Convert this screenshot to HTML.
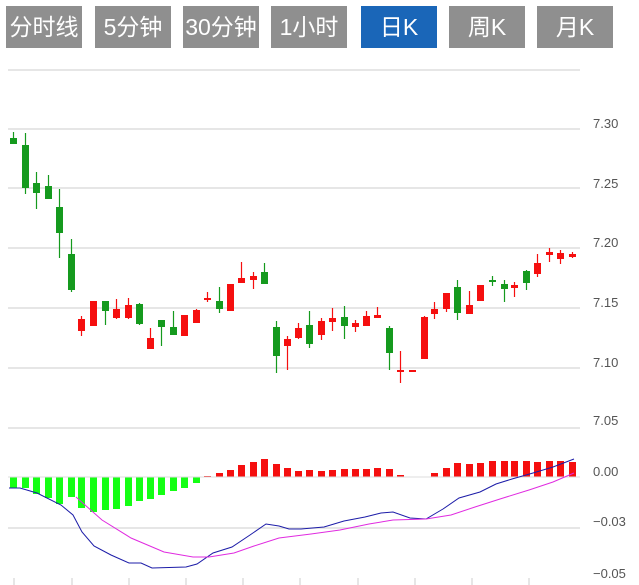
<!DOCTYPE html>
<html><head><meta charset="utf-8"><style>
body{margin:0;background:#fff;width:639px;height:585px;overflow:hidden;font-family:"Liberation Sans","Noto Sans CJK SC",sans-serif}
.b{position:absolute;top:6px;height:42px;width:76px;background:#8f8f8f;color:#fff;font-size:23px;line-height:42px;text-align:center}
.b.a{background:#1a66b8}
svg{position:absolute;left:0;top:0}
</style></head><body>
<div class="b" style="left:6px">分时线</div>
<div class="b" style="left:95px">5分钟</div>
<div class="b" style="left:183px">30分钟</div>
<div class="b" style="left:271px">1小时</div>
<div class="b a" style="left:361px">日K</div>
<div class="b" style="left:449px">周K</div>
<div class="b" style="left:537px">月K</div>
<svg id="s" width="639" height="585" font-family="Liberation Sans, sans-serif" font-size="13" fill="#555"></svg>
<script>
var s=document.getElementById('s'),h='';
function L(x1,y1,x2,y2,c,w){h+='<line x1="'+x1+'" y1="'+y1+'" x2="'+x2+'" y2="'+y2+'" stroke="'+c+'" stroke-width="'+(w||1)+'"/>';}
function T(x,y,t){h+='<text x="'+x+'" y="'+y+'">'+t+'</text>';}
L(8,70,580,70,'#e6e6e6',2);
[129,188,248,308,368,428].forEach(function(y){L(8,y,580,y,'#ddd',1.5)});
L(8,528,580,528,'#ddd',1.5);
[['7.30',128],['7.25',188],['7.20',247],['7.15',307],['7.10',367],['7.05',425],['0.00',476],['\u22120.03',526],['\u22120.05',578]].forEach(function(a){T(593,a[1],a[0])});
[14,72,129,186,243,300,358,415,472,529].forEach(function(x){L(x,578,x,585,'#ccc',1)});
var C=[[13,'g',132,138,144,144],[25,'g',133,145,188,194],[36,'g',172,183,193,209],[48,'g',175,186,199,199],[59,'g',189,207,233,258],[71,'g',239,254,290,292],
[81,'r',316,319,331,336],[93,'r',301,301,326,326],[105,'g',301,301,311,325],[116,'r',299,309,318,319],[128,'r',298,305,318,319],[139,'g',303,304,324,325],
[150,'r',328,338,349,349],[161,'g',320,320,327,346],[173,'g',311,327,335,335],[184,'r',315,315,336,336],[196,'r',309,310,323,323],[207,'r',292,298,300,302],
[219,'g',287,301,309,313],[230,'r',284,284,311,311],[241,'r',262,278,283,283],[253,'r',272,276,280,289],[264,'g',263,272,284,284],
[276,'g',321,327,356,373],[287,'r',336,339,346,370],[298,'r',323,328,338,339],[309,'g',311,325,344,348],[321,'r',318,321,335,340],[332,'r',308,318,322,331],
[344,'g',306,317,326,339],[355,'r',320,323,327,332],[366,'r',311,316,326,326],[377,'r',307,315,318,318],[389,'g',326,328,353,370],[400,'r',351,370,372,383],
[412,'r',370,370,372,372],[424,'r',316,317,359,359],[434,'r',302,309,314,319],[446,'r',293,293,309,312],[457,'g',280,287,313,320],[469,'r',291,305,314,314],
[480,'r',285,285,301,301],[492,'g',276,280,282,286],[504,'g',280,284,289,302],[514,'r',282,285,288,297],[526,'g',270,271,283,290],[537,'r',254,263,274,277],
[549,'r',248,252,255,262],[560,'r',250,253,259,264],[572,'r',252,254,257,258]];
C.forEach(function(c){var col=c[1]=='g'?'#159a1e':'#f50f0f';L(c[0]+0.5,c[2],c[0]+0.5,c[5],col,1.2);
h+='<rect x="'+(c[0]-3)+'" y="'+c[3]+'" width="7" height="'+Math.max(2,c[4]-c[3])+'" fill="'+col+'"/>';});
var Z=477,G=[11,11,17,21,27,20,31,35,33,32,29,24,22,18,14,11,6],
R=[1,4,7,12,15,18,13,9,6,7,6,7,8,8,8,9,8,2,0.5,0,4,9,14,13,14,16,16,16,16,15,16,16,15];
C.forEach(function(c,i){if(i<17)h+='<rect x="'+(c[0]-3)+'" y="'+Z+'" width="7" height="'+G[i]+'" fill="#14ff14"/>';
else{var v=R[i-17];if(v>0)h+='<rect x="'+(c[0]-3)+'" y="'+(Z-v)+'" width="7" height="'+v+'" fill="#f50f0f"/>';}});
L(8,Z,580,Z,'#ddd',1);
h+='<polyline fill="none" stroke="#1c1ca8" stroke-width="1" points="9,488 20,488 37,493 61,505 73,515 82,532 94,546 111,555 129,563 141,563 152,568 186,567 197,564 213,553 232,547 250,535 266,524 279,526 289,529 301,529 324,527 344,521 365,517 381,513 393,512 410,518 426,519 443,509 459,498 480,492 496,484 512,479 533,473 553,467 574,459"/>';
h+='<polyline fill="none" stroke="#e02be0" stroke-width="1" points="76,497 102,520 131,538 164,552 193,557 209,557 234,553 254,546 279,538 311,534 340,530 369,524 393,520 426,519 451,515 475,507 500,499 529,490 553,482 574,473"/>';
s.innerHTML=h;
</script>
</body></html>
